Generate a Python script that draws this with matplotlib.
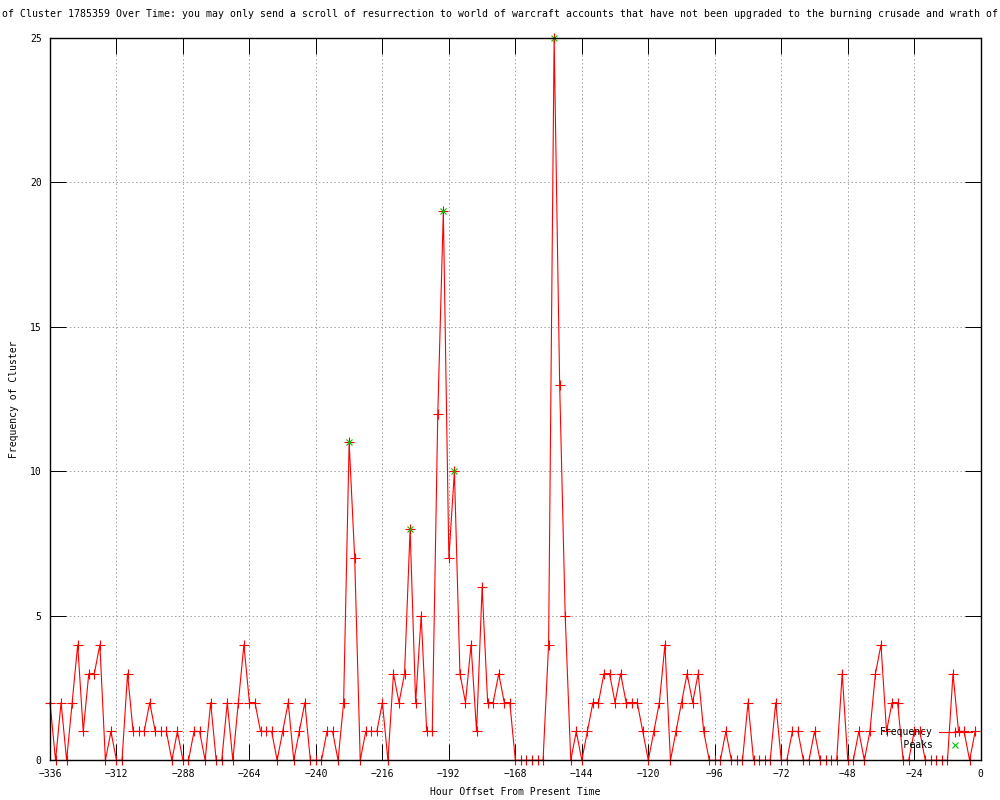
import matplotlib
matplotlib.use("Agg")
import matplotlib.pyplot as plt
import numpy as np

hours = list(range(-336, 0, 2))
frequency = [
    2, 0, 2, 0, 2, 4, 1, 3, 3, 4,      # -336 .. -318
    0, 1, 0, 0, 3, 1, 1, 1, 2, 1,      # -316 .. -298
    1, 1, 0, 1, 0, 0, 1, 1, 0, 2,      # -296 .. -278
    0, 0, 2, 0, 2, 4, 2, 2, 1, 1,      # -276 .. -258
    1, 0, 1, 2, 0, 1, 2, 0, 0, 0,      # -256 .. -238
    1, 1, 0, 2, 11, 7, 0, 1, 1, 1,     # -236 .. -218
    2, 0, 3, 2, 3, 8, 2, 5, 1, 1,      # -216 .. -198
    12, 19, 7, 10, 3, 2, 4, 1, 6, 2,   # -196 .. -178
    2, 3, 2, 2, 0, 0, 0, 0, 0, 0,      # -176 .. -158
    4, 25, 13, 5, 0, 1, 0, 1, 2, 2,    # -156 .. -138
    3, 3, 2, 3, 2, 2, 2, 1, 0, 1,      # -136 .. -118
    2, 4, 0, 1, 2, 3, 2, 3, 1, 0,      # -116 .. -98
    0, 0, 1, 0, 0, 0, 2, 0, 0, 0,      # -96 .. -78
    0, 2, 0, 0, 1, 1, 0, 0, 1, 0,      # -76 .. -58
    0, 0, 0, 3, 0, 0, 1, 0, 1, 3,      # -56 .. -38
    4, 1, 2, 2, 0, 0, 1, 1, 0, 0,      # -36 .. -18
    0, 0, 0, 3, 1, 1, 0, 1,            # -16 .. -2
]
peak_hours = [-228, -206, -194, -190, -154]
peak_values = [11, 8, 19, 10, 25]

x_ticks = list(range(-336, 1, 24))
y_ticks = [0, 5, 10, 15, 20, 25]

title = ("of Cluster 1785359 Over Time: you may only send a scroll of resurrection "
         "to world of warcraft accounts that have not been upgraded to the burning "
         "crusade and wrath of")

plt.rcParams['font.family'] = ['DejaVu Sans Mono']
FS = 7

fig = plt.figure(figsize=(10, 8), dpi=100)
ax = fig.add_axes([0.05, 0.0496, 0.9307, 0.9029])

ax.plot(hours, frequency, color='#ff0000', lw=0.8, marker='+', ms=6.5, mew=0.8,
        clip_on=False, zorder=2, label='Frequency')
ax.plot(peak_hours, peak_values, ls='none', color='#00c000', marker='x', ms=5,
        mew=0.8, clip_on=False, zorder=3, label='    Peaks')

ax.set_xlim(-336, 0)
ax.set_ylim(0, 25)
ax.set_xticks(x_ticks)
ax.set_yticks(y_ticks)
ax.tick_params(direction='in', length=11.5, width=0.7, labelsize=FS,
               top=True, right=True, pad=6, colors='black')
ax.grid(True, color='#a0a0a0', linestyle=(0, (1.5, 2.5)), lw=0.7)
for s in ax.spines.values():
    s.set_linewidth(1.0)
    s.set_zorder(4)

ax.set_xlabel('Hour Offset From Present Time', fontsize=FS, labelpad=6)
ax.set_ylabel('Frequency of Cluster', fontsize=FS, labelpad=8)
fig.text(0.5, 0.982, title, ha='center', va='center', fontsize=7.15)

leg = ax.legend(loc='lower right', bbox_to_anchor=(0.972, 0.062),
                bbox_transform=fig.transFigure, frameon=False, fontsize=FS,
                markerfirst=False, handlelength=3.4, handletextpad=0.6,
                labelspacing=0.35, borderpad=0, borderaxespad=0)

fig.savefig('out.png', dpi=100)
